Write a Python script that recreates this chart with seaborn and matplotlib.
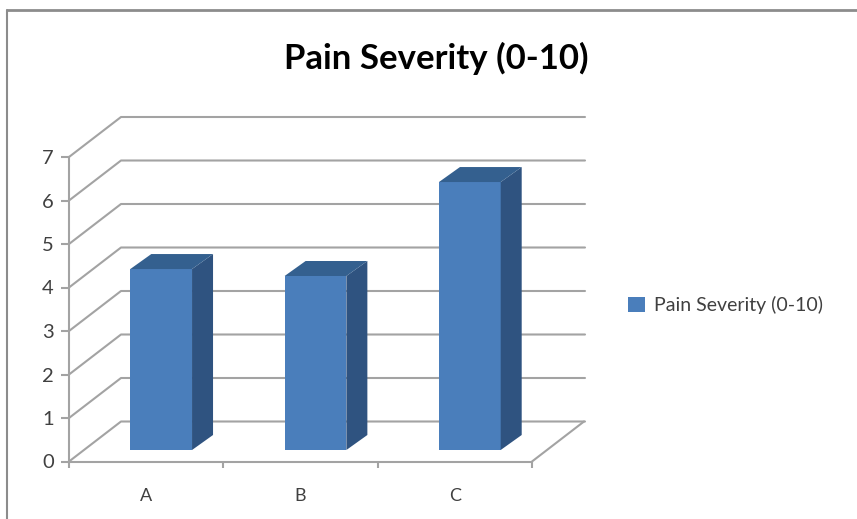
import matplotlib
matplotlib.use("Agg")
import matplotlib.pyplot as plt
from matplotlib.lines import Line2D
from matplotlib.patches import Polygon
from matplotlib.transforms import Affine2D
import seaborn as sns

# === Data ===

categories = ["A", "B", "C"]
severity = [4.16, 4.0, 6.16]
series_name = "Pain Severity (0-10)"
y_ticks = [0, 1, 2, 3, 4, 5, 6, 7]

FRONT = "#4A7EBB"
SIDE = "#2F5380"
TOP = "#34608F"
GRID = "#A3A3A3"
TEXT = "#404040"

sns.set_theme(style="white")
plt.rcParams["font.family"] = ["Lato", "DejaVu Sans"]

fig = plt.figure(figsize=(8.57, 5.19), dpi=100)
ax = fig.add_axes([69 / 857, (519 - 461.5) / 519, 463 / 857, 304.5 / 519])

# === Front faces ===

sns.barplot(x=categories, y=severity, color=FRONT, saturation=1, width=0.4,
            label=series_name, ax=ax, zorder=3)
ax.set_xlim(-0.5, 2.5)
ax.set_ylim(0, 7)

# one data unit in pixels, for the fake 3D depth
px_x = 463 / 3
px_y = 304.5 / 7

# === Back wall and floor ===

wall_dx = 52 / px_x
wall_dy = 40 / px_y
wall_right = -0.5 + 516 / px_x
for v in y_ticks:
    ax.plot([-0.5, -0.5 + wall_dx, wall_right], [v, v + wall_dy, v + wall_dy],
            color=GRID, lw=1.5, clip_on=False, zorder=1)
ax.plot([2.5, 2.5 + wall_dx], [0, wall_dy], color=GRID, lw=1.5, clip_on=False, zorder=1)

# === Bars: move front faces off the wall and add side and top ===

shift = Affine2D().translate(15, 11.5) + Affine2D()
bar_dx = 21 / px_x
bar_dy = 15 / px_y
for p in ax.patches:
    p.set_transform(ax.transData + shift)
    x0, x1, h = p.get_x(), p.get_x() + p.get_width(), p.get_height()
    p.set_linewidth(0)
    side = Polygon([(x1, 0), (x1 + bar_dx, bar_dy), (x1 + bar_dx, h + bar_dy), (x1, h)],
                   facecolor=SIDE, edgecolor="none", zorder=3,
                   transform=ax.transData + shift, clip_on=False)
    top = Polygon([(x0, h), (x0 + bar_dx, h + bar_dy), (x1 + bar_dx, h + bar_dy), (x1, h)],
                  facecolor=TOP, edgecolor="none", zorder=3,
                  transform=ax.transData + shift, clip_on=False)
    ax.add_patch(side)
    ax.add_patch(top)

# === Axes ===

sns.despine(ax=ax, top=True, right=True)
for s in ["left", "bottom"]:
    ax.spines[s].set_color(GRID)
    ax.spines[s].set_linewidth(1.5)

ax.set_yticks(y_ticks)
ax.tick_params(axis="y", length=6, width=1.5, color=GRID, pad=5, labelsize=14.5, labelcolor=TEXT, left=True)
ax.set_xticks([-0.5, 0.5, 1.5, 2.5], minor=True)
ax.tick_params(axis="x", which="minor", length=4, width=1.5, color=GRID, bottom=True)
ax.tick_params(axis="x", which="major", length=0, pad=19, labelsize=13, labelcolor=TEXT)

# === Title, legend, outer frame ===

fig.text(436 / 857, 1 - 58 / 519, series_name, ha="center", va="center",
         fontsize=25, fontweight="bold", color="black")

ax.legend(loc="center left", bbox_to_anchor=(628 / 857, 1 - 305 / 519),
          bbox_transform=fig.transFigure, frameon=False, fontsize=14,
          labelcolor=TEXT, handlelength=0.85, handleheight=0.85, handletextpad=0.5,
          borderaxespad=0, borderpad=0)

fig.add_artist(Line2D([7 / 857, 7 / 857], [0, 1 - 10 / 519], color="#8C8C8C", lw=1.5))
fig.add_artist(Line2D([7 / 857, 1], [1 - 10 / 519, 1 - 10 / 519], color="#8C8C8C", lw=2))

fig.savefig("out.png", dpi=100)
